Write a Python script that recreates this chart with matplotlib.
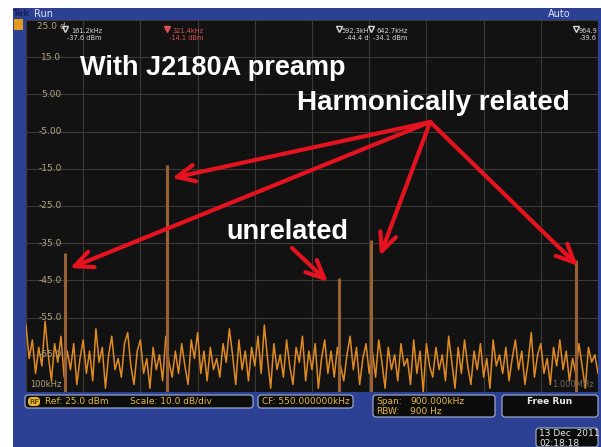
import numpy as np
import matplotlib
matplotlib.use("Agg")
import matplotlib.pyplot as plt
from matplotlib.patches import Rectangle, FancyBboxPatch

# spectrum noise floor, one value every 5 kHz from 100 kHz to 1 MHz (dBm)
noise_dbm = [
    -57, -66, -61, -70, -63, -68, -56, -65, -72, -62,
    -67, -60, -71, -64, -69, -62, -73, -66, -61, -70,
    -64, -72, -58, -67, -63, -74, -65, -60, -69, -66,
    -71, -62, -59, -68, -73, -64, -61, -70, -66, -74,
    -63, -69, -65, -72, -60, -67, -71, -64, -70, -62,
    -68, -73, -61, -66, -59, -70, -64, -72, -63, -69,
    -66, -71, -62, -67, -58, -65, -73, -61, -69, -64,
    -72, -63, -68, -60, -70, -57, -66, -74, -62, -69,
    -65, -71, -61, -68, -73, -63, -67, -60, -72, -64,
    -69, -62, -74, -66, -61, -70, -64, -71, -63, -68,
    -72, -65, -60, -69, -63, -73, -66, -62, -70, -64,
    -71, -61, -67, -74, -63, -69, -65, -72, -62, -68,
    -66, -73, -61, -70, -64, -75, -62, -68, -71, -63,
    -69, -65, -72, -60, -67, -74, -63, -70, -61, -68,
    -73, -64, -69, -62, -71, -66, -74, -61, -68, -65,
    -70, -63, -72, -66, -61, -69, -64, -73, -67, -59,
    -71, -65, -62, -70, -66, -73, -63, -68, -61, -69,
    -64, -72, -66, -70, -62, -68, -74, -63, -67, -65, -70,
]
f_start, f_step = 100, 5

# marker readouts (kHz, dBm)
peak_khz = [161.2, 321.4, 592.3, 642.7, 964.9]
peak_dbm = [-37.6, -14.1, -44.4, -34.1, -39.6]
peak_txt = ["161.2kHz", "321.4kHz", "592.3kH", "642.7kHz", "964.9"]
peak_lvl = ["-37.6 dBm", "-14.1 dBm", "-44.4 d", "-34.1 dBm", "-39.6"]

ytick_vals = [15, 5, -5, -15, -25, -35, -45, -55, -65]
ytick_lbls = ["15.0", "5.00", "-5.00", "-15.0", "-25.0", "-35.0", "-45.0", "-55.0", "-65.0"]

BLUE = "#2c4193"
GOLD = "#e2b94a"
RED = "#e5121f"

fig = plt.figure(figsize=(6.01, 4.47), dpi=100)
fig.patch.set_facecolor("white")

# instrument frame (pixel coords)
bg = fig.add_axes([0, 0, 1, 1])
bg.set_xlim(0, 601)
bg.set_ylim(447, 0)
bg.axis("off")
bg.add_patch(Rectangle((13, 8), 588, 439, color=BLUE, lw=0))
bg.add_patch(Rectangle((14, 19), 9, 11, color="#e39a1c", lw=0))
bg.text(13, 14, "Tek", color="#18245e", fontsize=6.5, fontweight="bold", va="center")
bg.text(34, 14, "Run", color="#dfe3f2", fontsize=7, va="center")
bg.text(548, 14, "Auto", color="#dfe3f2", fontsize=7, va="center")

boxes = [(25, 395, 228, 13), (258, 395, 95, 13), (373, 395, 122, 22), (502, 395, 96, 22), (536, 428, 62, 19)]
for bx, by, bw, bh in boxes:
    bg.add_patch(FancyBboxPatch((bx, by), bw, bh, boxstyle="round,pad=0,rounding_size=3",
                                fc="#0c0c0c", ec="#aab4d8", lw=0.8))
bg.add_patch(FancyBboxPatch((28, 397), 12, 9, boxstyle="round,pad=0,rounding_size=4",
                            fc="#e8b830", ec="none"))
bg.text(34, 401.5, "RF", color="#6a4a00", fontsize=5, ha="center", va="center", fontweight="bold")
st = dict(fontsize=6.5, va="center", color=GOLD)
bg.text(45, 401.5, "Ref: 25.0 dBm", **st)
bg.text(130, 401.5, "Scale: 10.0 dB/div", **st)
bg.text(262, 401.5, "CF: 550.000000kHz", **st)
bg.text(376, 401.5, "Span:", **st)
bg.text(376, 411.5, "RBW:", **st)
bg.text(410, 401.5, "900.000kHz", **st)
bg.text(410, 411.5, "900 Hz", **st)
bg.text(550, 401.5, "Free Run", fontsize=6.5, va="center", ha="center", color="#e8e8e8", fontweight="bold")
bg.text(539, 434, "13 Dec  2011", fontsize=6.5, va="center", color="#e8e8e8")
bg.text(539, 443, "02:18:18", fontsize=6.5, va="center", color="#e8e8e8")

# spectrum display
ax = fig.add_axes([26 / 601, 55 / 447, 572 / 601, 372 / 447])
ax.set_facecolor("#121212")
ax.set_xlim(100, 1000)
ax.set_ylim(-75, 25)
ax.set_xticks(np.arange(100, 1001, 90))
ax.set_yticks(np.arange(-75, 26, 10))
ax.grid(True, color="#3c3a36", lw=0.8)
ax.tick_params(length=0, labelbottom=False, labelleft=False)
for s in ax.spines.values():
    s.set_visible(False)

freqs = f_start + f_step * np.arange(len(noise_dbm))
ax.plot(freqs, noise_dbm, color="#e08a22", lw=1.1, zorder=3)
ax.vlines(peak_khz, -75, peak_dbm, color="#9a6134", lw=2.2, zorder=4)

for v, lab in zip(ytick_vals, ytick_lbls):
    ax.text(0.062, v, lab, transform=ax.get_yaxis_transform(), ha="right", va="center",
            fontsize=6.5, color="#b2a382", zorder=5)
ax.text(0.02, 0.982, "25.0 d", transform=ax.transAxes, fontsize=6.5, color="#b2a382", va="center")
ax.text(0.007, 0.02, "100kHz", transform=ax.transAxes, fontsize=6, color="#b2a382", va="center")
ax.text(0.993, 0.02, "1.000MHz", transform=ax.transAxes, fontsize=6, color="#6d6556", va="center", ha="right")

# marker readouts along the top
for i, (f, t, l) in enumerate(zip(peak_khz, peak_txt, peak_lvl)):
    c = "#e05050" if i == 1 else "#d8d8d8"
    ax.plot(f, 0.975, marker="v", ms=5, mfc="none" if i != 1 else c, mec=c,
            transform=ax.get_xaxis_transform(), clip_on=False, zorder=6)
    ax.text(f + 4, 0.962, t + "\n" + l, transform=ax.get_xaxis_transform(), fontsize=4.8,
            color=c, va="center", ha="left", multialignment="right", linespacing=1.25, clip_on=True)

# annotations
tf = dict(color="white", fontweight="bold", family=["Liberation Sans", "DejaVu Sans"], zorder=7)
ax.text(185, 12.1, "With J2180A preamp", va="center", fontsize=19.5, **tf)
ax.text(526, 2.7, "Harmonically related", va="center", fontsize=20, **tf)
ax.text(416, -32, "unrelated", va="center", fontsize=19.5, **tf)

arrow = dict(arrowstyle="->,head_length=1.3,head_width=0.6", color=RED, lw=3, shrinkA=0, shrinkB=0)
src = (736, -2.4)
tips = [(169.2, -41.7), (329.7, -17.5), (657, -38.4), (968.5, -41.1)]
for tip in tips:
    ax.annotate("", xy=tip, xytext=src, arrowprops=arrow, zorder=8)
ax.annotate("", xy=(575, -45.4), xytext=(518.5, -36.3), arrowprops=arrow, zorder=8)

fig.savefig("out.png", dpi=100, facecolor=fig.get_facecolor())
